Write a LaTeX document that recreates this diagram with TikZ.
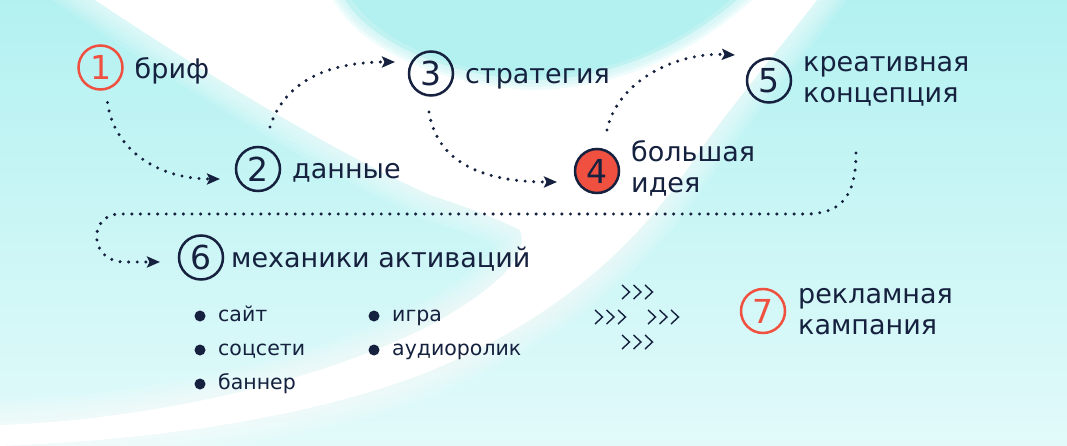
\documentclass[tikz,border=0pt]{standalone}
\usepackage{fontspec}
\setmainfont{DejaVu Sans}
\usetikzlibrary{arrows.meta}
\definecolor{ink}{HTML}{15213E}
\definecolor{brick}{HTML}{F0503F}
\definecolor{bgcyan}{HTML}{B3F1F1}
\definecolor{bgpale}{HTML}{E2FAFA}
\tikzset{
  num/.style={circle, draw=ink, line width=2.5pt, minimum size=44pt, inner sep=0pt, outer sep=0pt, text=ink, font=\fontsize{33}{33}\selectfont},
  numred/.style={num, draw=brick, text=brick},
  numfill/.style={num, fill=brick},
  lbl/.style={anchor=base west, inner sep=0pt, text=ink, align=left, font=\fontsize{27}{31}\selectfont},
  item/.style={anchor=base west, inner sep=0pt, text=ink, font=\fontsize{20.5}{24}\selectfont},
  bullet/.style={circle, fill=ink, inner sep=0pt, minimum size=11pt},
  flow/.style={draw=ink, line width=3.4pt, line cap=round, dash pattern=on 0pt off 8.6pt, -{Stealth[length=13pt,width=11pt,inset=2.5pt]}},
  chev/.style={draw=ink, line width=1.4pt}
}
\begin{document}
\begin{tikzpicture}[x=1pt, y=-1pt]
\useasboundingbox (0,0) rectangle (1067,446);
% background
\shade[top color=bgcyan, bottom color=bgpale] (0,0) rectangle (1067,446);
\foreach \w in {48,40,32,24,16,8}
  \draw[white, opacity=0.12, line width=\w] (95,0) -- (817,0)
    .. controls (770,60) and (720,120) .. (690,165)
    .. controls (640,240) and (560,320) .. (420,375)
    .. controls (300,420) and (150,440) .. (0,446) -- (0,425)
    .. controls (150,420) and (330,380) .. (440,320)
    .. controls (500,285) and (530,255) .. (520,230)
    .. controls (490,215) and (460,205) .. (430,195)
    .. controls (330,150) and (200,70) .. (95,0) -- cycle;
\fill[white] (95,0) -- (817,0)
    .. controls (770,60) and (720,120) .. (690,165)
    .. controls (640,240) and (560,320) .. (420,375)
    .. controls (300,420) and (150,440) .. (0,446) -- (0,425)
    .. controls (150,420) and (330,380) .. (440,320)
    .. controls (500,285) and (530,255) .. (520,230)
    .. controls (490,215) and (460,205) .. (430,195)
    .. controls (330,150) and (200,70) .. (95,0) -- cycle;
\foreach \w in {20,14,8}
  \fill[bgcyan, opacity=0.25] (345,0) .. controls (370,40) and (440,75) .. (530,80)
    .. controls (620,80) and (690,40) .. (737,0) -- cycle
    [draw=bgcyan, draw opacity=0.2, line width=\w];
\fill[bgcyan] (352,0) .. controls (375,36) and (442,72) .. (530,76)
    .. controls (618,76) and (686,38) .. (730,0) -- cycle;

% steps
\node[numred] (c1) at (100.5,67.5) {1};
\node[num] (c2) at (258,169) {2};
\node[num] (c3) at (431,73.5) {3};
\node[numfill] (c4) at (597,171) {4};
\node[num] (c5) at (769,80.5) {5};
\node[num] (c6) at (201,257.5) {6};
\node[numred] (c7) at (763,311) {7};

\node[lbl] (l1) at ([shift={(12,11)}]c1.east) {бриф};
\node[lbl] (l2) at ([shift={(12,10)}]c2.east) {данные};
\node[lbl] (l3) at ([shift={(12,10)}]c3.east) {стратегия};
\node[lbl] (l4) at ([shift={(12,22)}]c4.east) {большая\\идея};
\node[lbl] (l5) at ([shift={(12,22)}]c5.east) {креативная\\концепция};
\node[lbl] (l6) at ([shift={(8,10)}]c6.east) {механики активаций};
\node[lbl] (l7) at ([shift={(13,23)}]c7.east) {рекламная\\кампания};

% dotted connectors
\coordinate (s12) at ([shift={(7,13)}]c1.south);
\coordinate (e12) at ([shift={(-16,10)}]c2.west);
\coordinate (s23) at ([shift={(12,-20)}]c2.north);
\coordinate (e23) at ([shift={(-14,-11.5)}]c3.west);
\coordinate (s34) at ([shift={(-2,16.5)}]c3.south);
\coordinate (e34) at ([shift={(-18,11)}]c4.west);
\coordinate (s45) at ([shift={(10,-19)}]c4.north);
\coordinate (e45) at ([shift={(-12,-25.5)}]c5.west);
\coordinate (s56) at ([shift={(87,50.5)}]c5.south);
\coordinate (e56) at ([shift={(-19,4.5)}]c6.west);

\draw[flow] (s12) .. controls +(6,45) and +(-65,0) .. (e12);
\draw[flow] (s23) .. controls +(15,-47) and +(-65,0) .. (e23);
\draw[flow] (s34) .. controls +(8,50) and +(-75,0) .. (e34);
\draw[flow] (s45) .. controls +(10,-48) and +(-60,-3) .. (e45);
\draw[flow] (s56) .. controls +(0,45) and +(35,0) .. (805,214) -- (120,214)
  .. controls (88,214) and (88,262) .. (125,262) -- (e56);

% activation list
\foreach \n/\x/\y/\t in {1/200/321/сайт, 2/200/355/соцсети, 3/200/389/баннер, 4/374/321/игра, 5/374/355/аудиоролик}{
  \node[bullet] (d\n) at (\x,{\y-5}) {};
  \node[item] (t\n) at ([shift={(18,5)}]d\n.center) {\t};
}

% chevrons
\foreach \gx/\gy in {622/292, 595/317, 648/317, 622/342}
  \foreach \k in {0,1,2}
    \draw[chev] ({\gx+\k*11.5},{\gy-7}) -- ++(7.5,7) -- ++(-7.5,7);
\end{tikzpicture}
\end{document}
